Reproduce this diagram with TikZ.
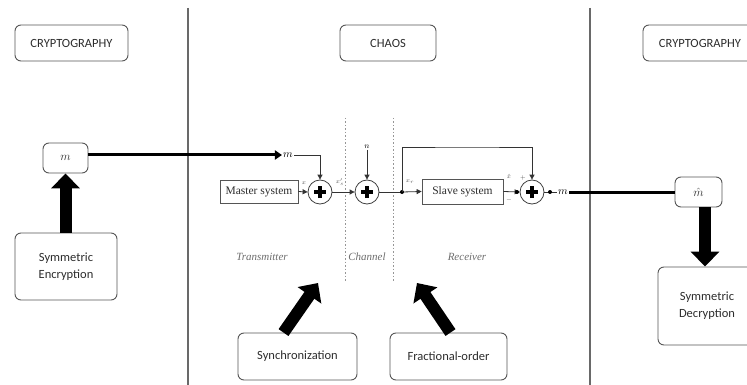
\documentclass[tikz,border=0pt]{standalone}
\usepackage{fontspec}
\setmainfont{Liberation Serif}
\setsansfont{Carlito}
\usetikzlibrary{arrows.meta,calc}
\definecolor{boxgray}{RGB}{85,85,85}
\definecolor{linegray}{RGB}{105,105,105}
\definecolor{dotgray}{RGB}{150,150,150}
\definecolor{labgray}{RGB}{110,110,110}
\definecolor{txt}{RGB}{45,45,45}
\begin{document}
\begin{tikzpicture}[x=1pt,y=-1pt,
  sbox/.style={draw=boxgray, rounded corners=6pt, line width=0.9pt, text=txt,
    font=\sffamily\fontsize{12.5}{17}\selectfont, align=center, inner sep=0pt},
  tbox/.style={draw=boxgray, line width=0.8pt, text=txt,
    font=\fontsize{11.5}{13}\selectfont, inner sep=0pt},
  sumnode/.style={draw=black!75, circle, line width=0.8pt, minimum size=24pt, inner sep=0pt},
  sig/.style={draw=black!80, line width=0.8pt},
  sigarrow/.style={sig, -{Triangle[width=5pt,length=5pt]}},
  bigarrow/.style={draw=black, line width=12pt, -{Triangle[width=28pt,length=15pt]}},
  thickline/.style={draw=black, line width=3pt},
  ital/.style={text=labgray, font=\itshape\fontsize{11}{12}\selectfont},
  tiny/.style={text=black!70, font=\fontsize{6}{7}\selectfont, inner sep=0pt},
  jdot/.style={circle, fill=black, inner sep=0pt, minimum size=4pt}
]
\clip (0,0) rectangle (747,385);
\fill[white] (0,0) rectangle (747,385);

% section separators
\draw[linegray, line width=1.5pt] (188,8) -- (188,385);
\draw[linegray, line width=1.5pt] (590,8) -- (590,385);
\draw[dotgray, line width=0.9pt, dash pattern=on 1.5pt off 2pt] (345,118) -- (345,282);
\draw[dotgray, line width=0.9pt, dash pattern=on 1.5pt off 2pt] (393,118) -- (393,282);

% headers
\node[sbox, minimum width=113pt, minimum height=36pt] (crL) at (71.5,43) {CRYPTOGRAPHY};
\node[sbox, minimum width=96pt, minimum height=36pt] (chaos) at (388,43) {CHAOS};
\node[sbox, minimum width=114pt, minimum height=36pt] (crR) at (700,43) {CRYPTOGRAPHY};

% left side
\node[sbox, minimum width=45pt, minimum height=30pt] (mbox) at (65.5,158) {$m$};
\node[sbox, minimum width=102pt, minimum height=67pt] (enc) at (66,266.5) {Symmetric\\Encryption};
\draw[bigarrow] (mbox.south |- enc.north) -- (mbox.south);

% right side
\node[sbox, minimum width=47pt, minimum height=30pt] (mhat) at (698.5,192) {$\hat{m}$};
\node[sbox, minimum width=98pt, minimum height=78pt] (dec) at (707,306) {Symmetric\\Decryption};
\draw[bigarrow] ([xshift=6.5pt]mhat.south) -- ([xshift=6.5pt]mhat.south |- dec.north);

% bottom boxes
\node[sbox, minimum width=119pt, minimum height=47pt] (sync) at (297.5,356.5) {Synchronization};
\node[sbox, minimum width=117pt, minimum height=47pt] (frac) at (448.5,356.5) {Fractional-order};
\coordinate (syncTip) at (318,283);
\coordinate (fracTip) at (417,283);
\draw[bigarrow] ([xshift=-14pt]sync.north) -- (syncTip);
\draw[bigarrow] ([xshift=2pt]frac.north) -- (fracTip);

% chaos chain
\node[tbox, minimum width=78pt, minimum height=23pt] (master) at (259,191.5) {Master system};
\node[tbox, minimum width=81pt, minimum height=25pt] (slave) at (462.5,191.5) {Slave system};
\node[sumnode] (s1) at (320,192) {};
\node[sumnode] (s2) at (367,192) {};
\node[sumnode] (s3) at (532,192) {};
\foreach \s in {s1,s2,s3}
  \draw[line width=3.2pt] ([xshift=-6pt]\s.center) -- ([xshift=6pt]\s.center)
                          ([yshift=-6pt]\s.center) -- ([yshift=6pt]\s.center);

\node[inner sep=1pt, font=\fontsize{11}{12}\selectfont] (min) at (288,155) {$m$};
\node[inner sep=1pt, font=\fontsize{8}{9}\selectfont] (nin) at (367,147) {$n$};
\node[inner sep=1pt, font=\fontsize{11}{12}\selectfont] (mout) at (563,192) {$m$};

\draw[thickline, -{Triangle[width=9pt,length=7pt]}] (mbox.east |- min.west) -- (min.west);
\draw[sigarrow] (min.east) -| (s1.north);
\draw[sigarrow] (nin.south) -- (s2.north);
\draw[sigarrow] (master.east) -- (s1.west);
\draw[sigarrow] (s1.east) -- (s2.west);
\coordinate (junc) at (402,192);
\draw[sig] (s2.east) -- (junc);
\draw[sigarrow] (junc) -- (slave.west);
\node[jdot] at (junc) {};
\draw[sigarrow] (junc) |- (467,147) -| (s3.north);
\coordinate (sdot) at (517,192);
\draw[sigarrow] (slave.east) -- (s3.west);
\node[jdot] at (sdot) {};
\draw[sig] (s3.east) -- (mout.west);
\node[jdot] at (550,192) {};
\draw[thickline] (mout.east) -- (mhat.west);

% small signal labels
\node[tiny] (lx) at (304,183) {$x$};
\node[tiny] (lxs) at (340,182) {$x_s'$};
\node[tiny] (lxr) at (410,182) {$x_r$};
\node[tiny] (lhat) at (509,176) {$\hat{x}$};
\node[tiny] (lplus) at (523,178) {$+$};
\node[tiny] (lminus) at (509,200) {$-$};

% region labels
\node[ital] (tx) at (262,257) {Transmitter};
\node[ital] (ch) at (367,257) {Channel};
\node[ital] (rx) at (467,257) {Receiver};
\end{tikzpicture}
\end{document}
